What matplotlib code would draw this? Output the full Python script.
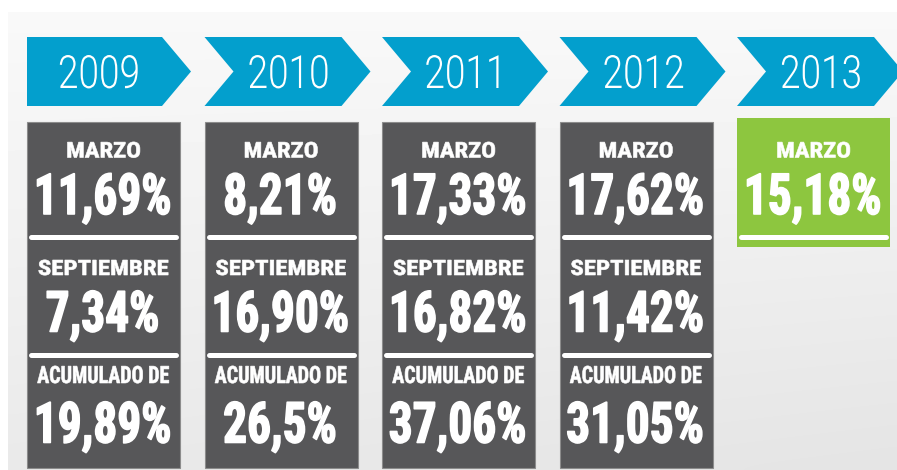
import matplotlib
matplotlib.use("Agg")
import matplotlib.pyplot as plt
import numpy as np
from matplotlib.patches import Polygon, Rectangle
from matplotlib.patheffects import AbstractPathEffect
from matplotlib.transforms import Affine2D
from matplotlib.textpath import TextPath
from matplotlib.font_manager import FontProperties

# ---------------- data ----------------
years = ["2009", "2010", "2011", "2012", "2013"]
marzo = ["11,69%", "8,21%", "17,33%", "17,62%", "15,18%"]
septiembre = ["7,34%", "16,90%", "16,82%", "11,42%"]
acumulado = ["19,89%", "26,5%", "37,06%", "31,05%"]
label_marzo = "MARZO"
label_sept = "SEPTIEMBRE"
label_acum = "ACUMULADO DE"

DPI = 100


class Condense(AbstractPathEffect):
    """Horizontally rescale text glyphs around their centre and optionally
    embolden them with a stroke of the fill colour."""

    def __init__(self, sx, stroke_px=0.0):
        super().__init__()
        self.sx = sx
        self.stroke_px = stroke_px

    def draw_path(self, renderer, gc, tpath, affine, rgbFace=None):
        ext = tpath.get_extents(affine)
        cx = (ext.x0 + ext.x1) / 2
        t = affine + Affine2D().translate(-cx, 0).scale(self.sx, 1).translate(cx, 0)
        gc0 = renderer.new_gc()
        gc0.copy_properties(gc)
        if self.stroke_px > 0 and rgbFace is not None:
            gc0.set_linewidth(self.stroke_px * 72 / DPI)
            gc0.set_foreground(rgbFace)
            gc0.set_joinstyle("round")
        renderer.draw_path(gc0, tpath, t, rgbFace)
        gc0.restore()


COND = ["Roboto Condensed", "Liberation Sans Narrow", "Liberation Sans", "DejaVu Sans"]
LIGHT = ["Roboto", "Lato", "DejaVu Sans"]


def make_style(family, weight, ref_text, ink_h_px, ink_w_px, h_probe, stroke_px=0.0):
    """Font size so that the probe glyph has the given ink height, and the
    horizontal rescale so that ref_text has the given ink width."""
    fp = FontProperties(family=family, weight=weight)
    hp = TextPath((0, 0), h_probe, size=10, prop=fp).get_extents().height * DPI / 72
    size = 10 * (ink_h_px - stroke_px) / hp
    w = TextPath((0, 0), ref_text, size=size, prop=fp).get_extents().width * DPI / 72
    sx = min(1.25, (ink_w_px - stroke_px) / w)
    return dict(family=family, weight=weight, fontsize=size,
                path_effects=[Condense(sx, stroke_px)])


st_year = make_style(LIGHT, 300, "2010", 33, 78, "2")
st_value = make_style(COND, "bold", "8,21%", 43, 111, "8", stroke_px=1.6)
st_marzo = make_style(COND, "bold", label_marzo, 16, 73, "M", stroke_px=0.6)
st_sept = make_style(COND, "bold", label_sept, 16, 130, "S", stroke_px=0.6)
st_acum = make_style(COND, "bold", label_acum, 17.5, 132, "A", stroke_px=0.6)

BLUE = "#039fcd"
GRAY = "#575759"
GREEN = "#8dc63f"

fig = plt.figure(figsize=(8.97, 4.70), dpi=DPI)
ax = fig.add_axes([0, 0, 1, 1])
ax.set_xlim(0, 897)
ax.set_ylim(470, 0)
ax.axis("off")
fig.patch.set_facecolor("white")

# background gradient panel
gy, gx = np.mgrid[0:1:60j, 0:1:120j]
grad = 0.975 - 0.06 * gy - 0.02 * gx * gy
ax.imshow(grad, cmap="gray", vmin=0, vmax=1, extent=(8, 897, 470, 12),
          aspect="auto", zorder=0, interpolation="bicubic")

step = 177.5
x_start = 27
arrow_top, arrow_bot = 37, 106
arrow_mid = (arrow_top + arrow_bot) / 2
notch = 29
rect_w = 137
tip = 166
box_w = 153

for i, yr in enumerate(years):
    L = x_start + i * step
    if i == 0:
        pts = [(L, arrow_top), (L + rect_w - 2, arrow_top), (L + tip - 2, arrow_mid),
               (L + rect_w - 2, arrow_bot), (L, arrow_bot)]
        tx = L + 72
    else:
        pts = [(L, arrow_top), (L + rect_w, arrow_top), (L + tip, arrow_mid),
               (L + rect_w, arrow_bot), (L, arrow_bot), (L + notch, arrow_mid)]
        tx = L + 84
    ax.add_patch(Polygon(pts, closed=True, facecolor=BLUE, edgecolor="none", zorder=2))
    ax.text(tx, 88, yr, ha="center", va="baseline", color="white", zorder=3, **st_year)

    cx = L + box_w / 2
    if i < len(septiembre):
        ax.add_patch(Rectangle((L, 122), box_w, 346, facecolor=GRAY,
                               edgecolor="#8c8c8c", lw=0.8, zorder=2))
    else:
        ax.add_patch(Rectangle((L, 118), box_w, 129, facecolor=GREEN,
                               edgecolor="none", zorder=2))

    # March
    ax.text(cx, 157.5, label_marzo, ha="center", va="baseline", color="white",
            zorder=3, **st_marzo)
    ax.text(cx - 1, 214, marzo[i], ha="center", va="baseline", color="white",
            zorder=3, **st_value)
    ax.plot([L + 4, L + box_w - 4], [237, 237], color="white", lw=3.6,
            solid_capstyle="round", zorder=3)

    if i < len(septiembre):
        ax.text(cx, 275, label_sept, ha="center", va="baseline", color="white",
                zorder=3, **st_sept)
        ax.text(cx - 1, 331.5, septiembre[i], ha="center", va="baseline", color="white",
                zorder=3, **st_value)
        ax.plot([L + 4, L + box_w - 4], [354.5, 354.5], color="white", lw=3.6,
                solid_capstyle="round", zorder=3)
        ax.text(cx, 383, label_acum, ha="center", va="baseline", color="white",
                zorder=3, **st_acum)
        ax.text(cx - 1, 442.5, acumulado[i], ha="center", va="baseline", color="white",
                zorder=3, **st_value)

fig.savefig("out.png", dpi=DPI, facecolor="white")
